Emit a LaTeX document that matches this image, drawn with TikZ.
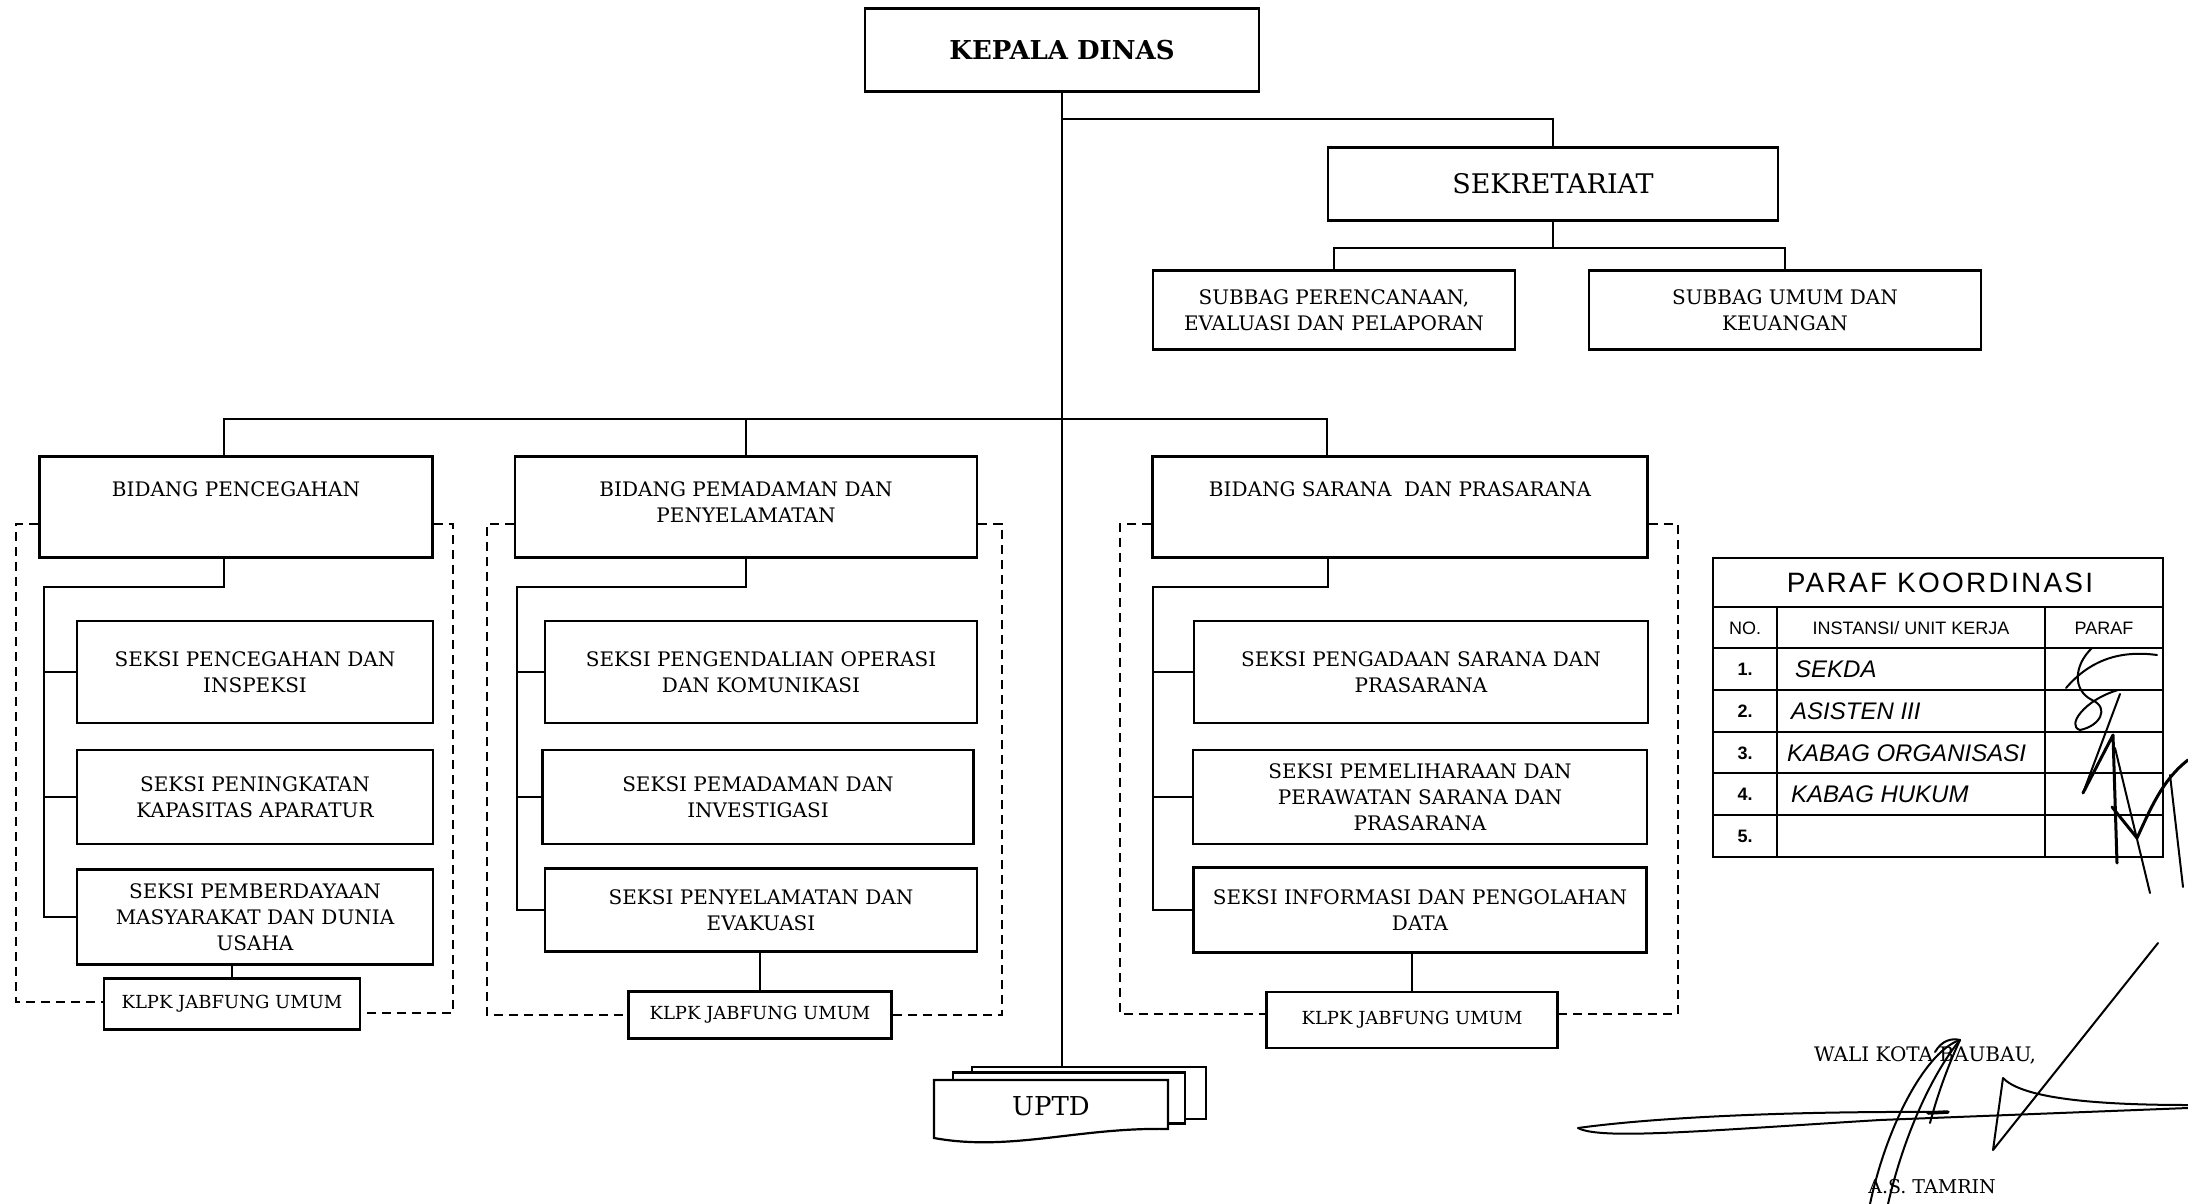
\documentclass[tikz,border=0pt]{standalone}
\usepackage{fontspec}
\setmainfont{DejaVu Serif}
\newfontfamily\tabfont{Liberation Sans}
\newfontfamily\tabwide[LetterSpace=8]{Liberation Sans}
\usetikzlibrary{positioning,calc}
\newcommand{\chartfont}{\fontsize{20}{26}\selectfont}

\begin{document}
\begin{tikzpicture}[
  x=1pt,y=-1pt,
  box/.style={draw,line width=2.6pt,fill=white,inner sep=2pt,align=center,font=\chartfont},
  sz/.style 2 args={minimum width=#1pt,minimum height=#2pt},
  btxt/.style={anchor=north,align=center,font=\chartfont,inner sep=0pt},
  klpk/.style={box,font=\fontsize{18}{22}\selectfont},
  page/.style={draw,line width=2.2pt,fill=white},
  ln/.style={line width=2pt},
  dsh/.style={line width=2.2pt,dash pattern=on 9pt off 6pt},
  tab/.style={line width=2pt},
  ttxt/.style={font=\tabfont\fontsize{18}{20}\selectfont,inner sep=1pt},
  hand/.style={font=\tabfont\itshape\fontsize{24}{24}\selectfont,anchor=west,inner sep=1pt},
  sig/.style={line width=2pt,line cap=round,line join=round}
]
\useasboundingbox (0,0) rectangle (2188,1204);

% TOP: head and secretariat
\node[box,sz={394}{83},font=\bfseries\fontsize{26}{30}\selectfont] (kadis) at (1062,50) {KEPALA DINAS};
\node[box,sz={450}{73},font=\fontsize{27}{30}\selectfont] (sekre) at (1553,184) {SEKRETARIAT};
\node[box,sz={362}{79}] (sub1) at (1334,310) {SUBBAG PERENCANAAN,\\EVALUASI DAN PELAPORAN};
\node[box,sz={392}{79}] (sub2) at (1785,310) {SUBBAG UMUM DAN\\KEUANGAN};

\draw[ln] ([yshift=-26pt]kadis.south) -| (sekre.north);
\draw[ln] (sekre.south) -- ++(0,26) coordinate (jsub);
\draw[ln] (sub1.north) |- (jsub) -| (sub2.north);

% MIDDLE: three bidang
\node[box,sz={393}{101}] (bid1) at (236,507) {};
\node[box,sz={462}{101}] (bid2) at (746,507) {};
\node[box,sz={495}{101}] (bid3) at (1400,507) {};
\node[btxt] (bid1t) at ([yshift=-26pt]bid1.north) {BIDANG PENCEGAHAN};
\node[btxt] (bid2t) at ([yshift=-26pt]bid2.north) {BIDANG PEMADAMAN DAN\\PENYELAMATAN};
\node[btxt] (bid3t) at ([yshift=-26pt]bid3.north) {BIDANG SARANA\ \ DAN PRASARANA};

\coordinate (jbid) at (1065,419);
\draw[ln] ([xshift=-12pt]bid1.north) |- (jbid) -| ([xshift=-73pt]bid3.north);
\draw[ln] (bid2.north) -- (bid2.north |- jbid);

% COLUMN 1
\node[box,sz={356}{102}] (sk11) at (255,672) {SEKSI PENCEGAHAN DAN\\INSPEKSI};
\node[box,sz={356}{94}]  (sk12) at (255,797) {SEKSI PENINGKATAN\\KAPASITAS APARATUR};
\node[box,sz={356}{95}]  (sk13) at (255,917) {SEKSI PEMBERDAYAAN\\MASYARAKAT DAN DUNIA\\USAHA};
\node[klpk,sz={256}{51}] (kl1) at (232,1004) {KLPK JABFUNG UMUM};

% COLUMN 2
\node[box,sz={432}{102}] (sk21) at (761,672) {SEKSI PENGENDALIAN OPERASI\\DAN KOMUNIKASI};
\node[box,sz={431}{94}]  (sk22) at (758,797) {SEKSI PEMADAMAN DAN\\INVESTIGASI};
\node[box,sz={432}{83}]  (sk23) at (761,910) {SEKSI PENYELAMATAN DAN\\EVAKUASI};
\node[klpk,sz={263}{47}] (kl2) at (760,1015) {KLPK JABFUNG UMUM};

% COLUMN 3
\node[box,sz={454}{102}] (sk31) at (1421,672) {SEKSI PENGADAAN SARANA DAN\\PRASARANA};
\node[box,sz={454}{94}]  (sk32) at (1420,797) {SEKSI PEMELIHARAAN DAN\\PERAWATAN SARANA DAN\\PRASARANA};
\node[box,sz={453}{85}]  (sk33) at (1420,910) {SEKSI INFORMASI DAN PENGOLAHAN\\DATA};
\node[klpk,sz={291}{56}] (kl3) at (1412,1020) {KLPK JABFUNG UMUM};

% spines
\coordinate (sp1) at (44,587);
\coordinate (sp2) at (517,587);
\coordinate (sp3) at (1153,587);
\draw[ln] ([xshift=-12pt]bid1.south) |- (sp1) |- (sk13.west);
\draw[ln] (bid2.south) |- (sp2) |- (sk23.west);
\draw[ln] ([xshift=-72pt]bid3.south) |- (sp3) |- (sk33.west);
\foreach \n in {sk11,sk12} \draw[ln] (sp1 |- \n.west) -- (\n.west);
\foreach \n in {sk21,sk22} \draw[ln] (sp2 |- \n.west) -- (\n.west);
\foreach \n in {sk31,sk32} \draw[ln] (sp3 |- \n.west) -- (\n.west);
\draw[ln] (kl1.north) -- (kl1.north |- sk13.south);
\draw[ln] (kl2.north) -- (kl2.north |- sk23.south);
\draw[ln] (kl3.north) -- (kl3.north |- sk33.south);

% dashed groups
\coordinate (fl1) at (16,524);   \coordinate (fr1) at (453,524);
\coordinate (fl2) at (487,524);  \coordinate (fr2) at (1002,524);
\coordinate (fl3) at (1120,524); \coordinate (fr3) at (1678,524);
\draw[dsh] (bid1.west |- fl1) -- (fl1) |- ([yshift=2pt]kl1.west);
\draw[dsh] (bid1.east |- fr1) -- (fr1) |- ([yshift=-9pt]kl1.east);
\draw[dsh] (bid2.west |- fl2) -- (fl2) |- (kl2.west);
\draw[dsh] (bid2.east |- fr2) -- (fr2) |- (kl2.east);
\draw[dsh] (bid3.west |- fl3) -- (fl3) |- ([yshift=6pt]kl3.west);
\draw[dsh] (bid3.east |- fr3) -- (fr3) |- ([yshift=6pt]kl3.east);

% BOTTOM: UPTD
\node[page,sz={234}{52}] (pg3) at (1089,1093) {};
\node[page,sz={232}{51}] (pg2) at (1069,1098) {};
\draw[page] (934,1080) -- (1168,1080) -- (1168,1129)
  .. controls (1080,1127) and (1010,1152) .. (934,1138) -- cycle;
\node[font=\fontsize{26}{28}\selectfont] (uptd) at (1051,1106) {UPTD};
\draw[ln] (kadis.south) -- (kadis.south |- pg3.north);

% TABLE: paraf koordinasi
\draw[tab] (1713,558) rectangle (2163,857);
\draw[tab] (1713,607) -- (2163,607);
\foreach \y in {648,690,732,773,815} \draw[tab] (1713,\y) -- (2163,\y);
\draw[tab] (1777,607) -- (1777,857);
\draw[tab] (2045,607) -- (2045,857);
\node[font=\tabwide\fontsize{28}{30}\selectfont] (ptitle) at (1940,583) {PARAF KOORDINASI};
\node[ttxt] (hno) at (1745,628) {NO.};
\node[ttxt] (hunit) at (1911,628) {INSTANSI/ UNIT KERJA};
\node[ttxt] (hparaf) at (2104,628) {PARAF};
\foreach \i/\y in {1/669,2/711,3/753,4/794,5/836}
  \node[ttxt,font=\tabfont\bfseries\fontsize{18}{20}\selectfont] (no\i) at (1745,\y) {\i.};
\node[hand] (r1) at (1794,669) {SEKDA};
\node[hand] (r2) at (1790,711) {ASISTEN III};
\node[hand] (r3) at (1786,753) {KABAG ORGANISASI};
\node[hand] (r4) at (1790,794) {KABAG HUKUM};

% paraf strokes
\draw[sig] (2157,655) .. controls (2120,650) and (2090,660) .. (2066,688);
\draw[sig] (2092,648) .. controls (2074,665) and (2072,690) .. (2092,700)
  .. controls (2110,708) and (2100,726) .. (2080,730)
  .. controls (2066,726) and (2084,700) .. (2118,690);
\draw[sig] (2120,694) -- (2083,793);
\draw[sig,line width=3pt] (2083,793) -- (2113,735) -- (2117,863);
\draw[sig,line width=3pt] (2112,807) -- (2137,838) .. controls (2150,810) and (2162,780) .. (2188,760);
\draw[sig] (2115,748) -- (2150,893);
\draw[sig] (2170,775) -- (2183,887);

% SIGNATURE
\node[font=\fontsize{20}{22}\selectfont] (wali) at (1925,1055) {WALI KOTA BAUBAU,};
\node[font=\fontsize{19}{22}\selectfont] (nama) at (1932,1187) {A.S. TAMRIN};
\draw[sig] (1578,1128) .. controls (1650,1118) and (1780,1111) .. (1947,1112);
\draw[sig] (1578,1128) .. controls (1600,1140) and (1700,1131) .. (1880,1120) -- (2188,1108);
\draw[sig,line width=3.5pt] (1928,1113) -- (1948,1112);
\draw[sig] (2003,1078) .. controls (2020,1096) and (2080,1105) .. (2188,1105);
\draw[sig] (2003,1078) -- (1993,1150) -- (2158,943);
\draw[sig] (1870,1204) .. controls (1888,1120) and (1928,1050) .. (1960,1040);
\draw[sig] (1888,1204) .. controls (1905,1130) and (1935,1070) .. (1960,1040);
\draw[sig] (1960,1040) .. controls (1946,1070) and (1936,1100) .. (1930,1123);
\draw[sig] (1935,1052) .. controls (1942,1040) and (1952,1038) .. (1960,1040);
\end{tikzpicture}
\end{document}
